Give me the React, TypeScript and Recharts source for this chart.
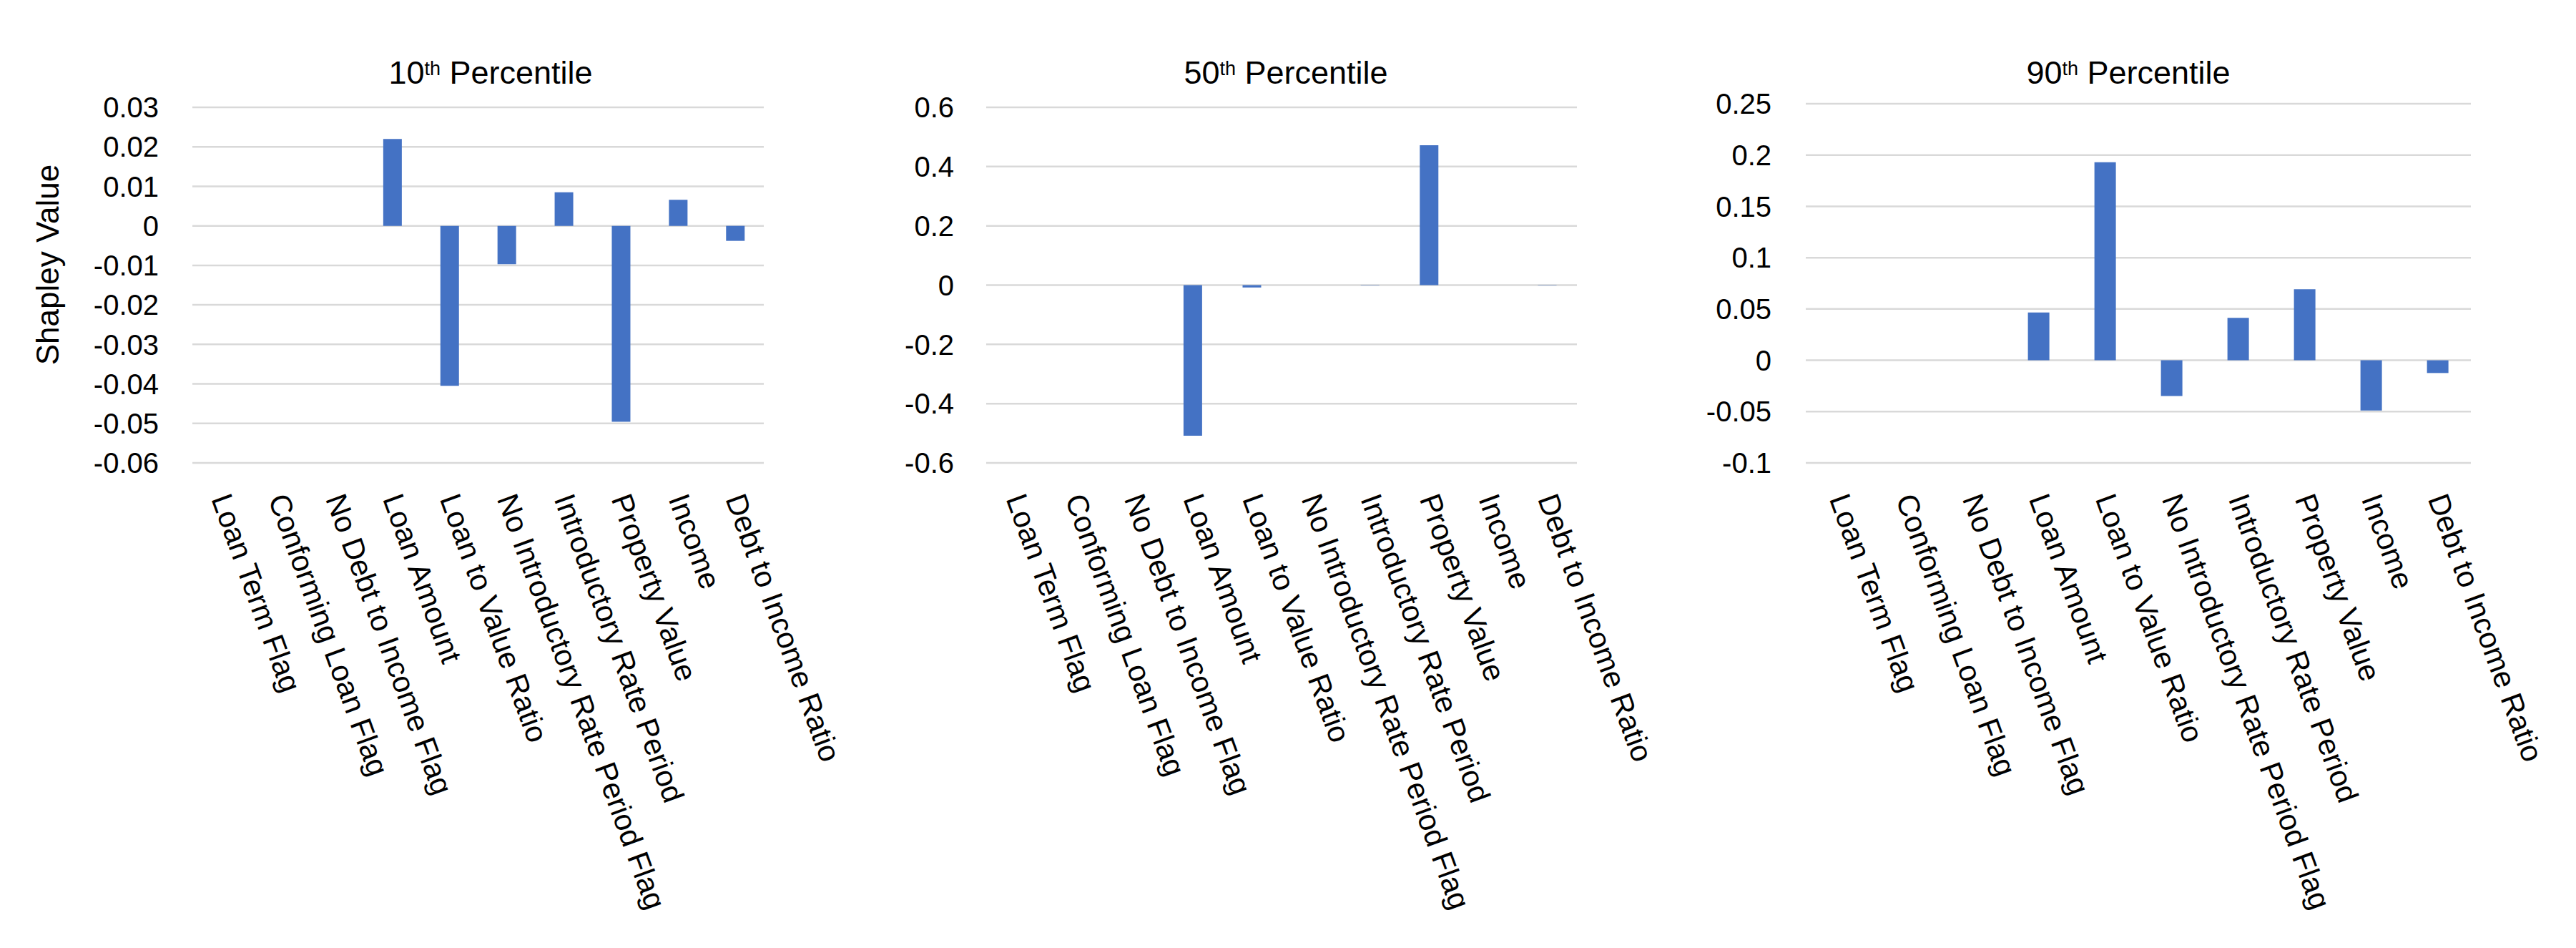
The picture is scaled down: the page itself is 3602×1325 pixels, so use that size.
import React from 'react'
import { BarChart, Bar, XAxis, YAxis, CartesianGrid } from 'recharts'

const categories = [
  'Loan Term Flag',
  'Conforming Loan Flag',
  'No Debt to Income Flag',
  'Loan Amount',
  'Loan to Value Ratio',
  'No Introductory Rate Period Flag',
  'Introductory Rate Period',
  'Property Value',
  'Income',
  'Debt to Income Ratio',
]

const p10Values = [0, 0, 0, 0.022, -0.0405, -0.0097, 0.0085, -0.0496, 0.0066, -0.0038]
const p50Values = [0, 0, 0, -0.508, -0.008, 0, 0.001, 0.472, 0, 0.001]
const p90Values = [0, 0, 0, 0.0466, 0.193, -0.0348, 0.0413, 0.0693, -0.049, -0.0124]

const p10Ticks = [0.03, 0.02, 0.01, 0, -0.01, -0.02, -0.03, -0.04, -0.05, -0.06]
const p50Ticks = [0.6, 0.4, 0.2, 0, -0.2, -0.4, -0.6]
const p90Ticks = [0.25, 0.2, 0.15, 0.1, 0.05, 0, -0.05, -0.1]

const BLUE = '#4472C4'
const FONT = '"Liberation Sans", Arial, sans-serif'

const toRows = (vals: number[]) => categories.map((c, i) => ({ name: c, v: vals[i] }))

const fmt = (v: number) => {
  const r = Math.round(v * 1000) / 1000
  return r === 0 ? '0' : String(r)
}

const CatTick = (props: any) => {
  const { x, y, payload } = props
  return (
    <g transform={`translate(${x - 14},${y + 50}) rotate(70)`}>
      <text x={0} y={0} textAnchor="start" fontSize={42} fontFamily={FONT} fill="#000">
        {payload.value}
      </text>
    </g>
  )
}

type PanelProps = {
  left: number
  width: number
  top: number
  yWidth: number
  right: number
  tickGap: number
  data: number[]
  ticks: number[]
}

function Panel({ left, width, top, yWidth, right, tickGap, data, ticks }: PanelProps) {
  const min = ticks[ticks.length - 1]
  const max = ticks[0]
  return (
    <div style={{ position: 'absolute', left, top: 0 }}>
      <BarChart
        width={width}
        height={1325}
        data={toRows(data)}
        margin={{ top, right, bottom: 0, left: 0 }}
        barCategoryGap="34%"
      >
        <CartesianGrid horizontal vertical={false} stroke="#d9d9d9" strokeWidth={2.5} />
        <XAxis
          dataKey="name"
          interval={0}
          height={1325 - 647}
          axisLine={false}
          tickLine={false}
          tickSize={0}
          tickMargin={0}
          tick={<CatTick />}
        />
        <YAxis
          width={yWidth}
          domain={[min, max]}
          ticks={ticks}
          axisLine={false}
          tickLine={false}
          tickSize={0}
          tickMargin={tickGap}
          tickFormatter={fmt}
          tick={{ fontSize: 40, fontFamily: FONT, fill: '#000' }}
          allowDataOverflow
        />
        <Bar dataKey="v" fill={BLUE} isAnimationActive={false} />
      </BarChart>
    </div>
  )
}

const titleStyle = (cx: number): React.CSSProperties => ({
  position: 'absolute',
  left: cx - 250,
  width: 500,
  top: 72,
  textAlign: 'center',
  fontFamily: FONT,
  fontSize: 45,
  color: '#000',
  lineHeight: '60px',
})

const Title = ({ cx, num }: { cx: number; num: string }) => (
  <div style={titleStyle(cx)}>
    {num}
    <sup style={{ fontSize: 27, verticalAlign: 'top', position: 'relative', top: -6 }}>th</sup> Percentile
  </div>
)

export default function App() {
  return (
    <div style={{ position: 'absolute', left: 0, top: 0, width: 3602, height: 1325, background: '#fff' }}>
      <Panel left={0} width={1250} top={150} yWidth={269} right={182} tickGap={47} data={p10Values} ticks={p10Ticks} />
      <Panel left={1150} width={1250} top={150} yWidth={229} right={195} tickGap={45} data={p50Values} ticks={p50Ticks} />
      <Panel left={2300} width={1302} top={145} yWidth={225} right={147} tickGap={48} data={p90Values} ticks={p90Ticks} />
      <Title cx={686} num="10" />
      <Title cx={1798} num="50" />
      <Title cx={2976} num="90" />
      <div
        style={{
          position: 'absolute',
          left: 67 - 200,
          top: 370 - 30,
          width: 400,
          height: 60,
          lineHeight: '60px',
          textAlign: 'center',
          transform: 'rotate(-90deg)',
          fontFamily: FONT,
          fontSize: 44,
          color: '#000',
        }}
      >
        Shapley Value
      </div>
    </div>
  )
}
